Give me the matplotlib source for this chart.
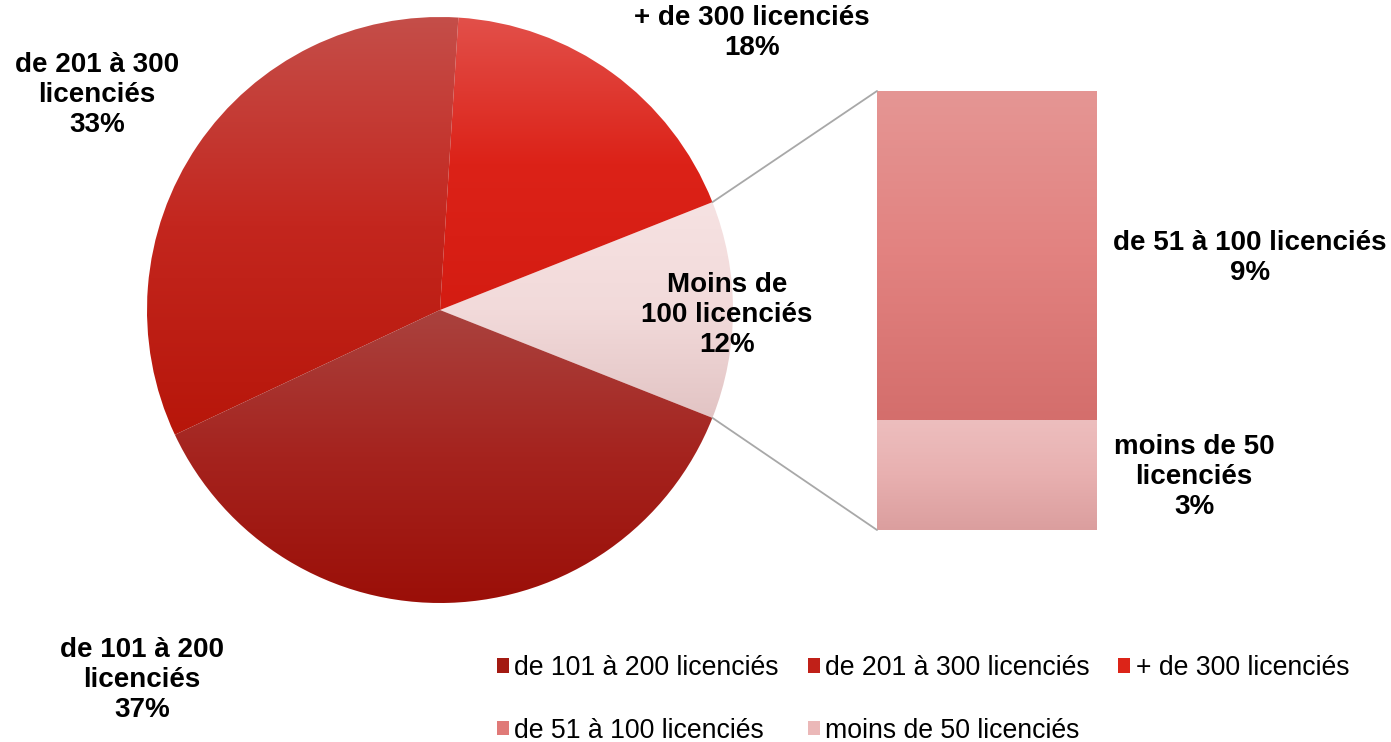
import matplotlib

matplotlib.use("Agg")
import matplotlib.pyplot as plt
import numpy as np
from matplotlib.colors import LinearSegmentedColormap
from matplotlib.patches import ConnectionPatch, Patch

plt.rcParams["font.family"] = ["Liberation Sans", "DejaVu Sans"]

# pie slices, counter-clockwise from the "other" slice
pie_labels = ["Moins de\n100 licenciés", "+ de 300 licenciés", "de 201 à 300\nlicenciés", "de 101 à 200\nlicenciés"]
pie_values = [12, 18, 33, 37]
# bar that details the "other" slice, bottom to top
bar_labels = ["moins de 50\nlicenciés", "de 51 à 100 licenciés"]
bar_values = [3, 9]
legend_names = [
    "de 101 à 200 licenciés",
    "de 201 à 300 licenciés",
    "+ de 300 licenciés",
    "de 51 à 100 licenciés",
    "moins de 50 licenciés",
]

# gradient stops (top -> bottom)
pie_grads = [
    [(246, 226, 226), (242, 218, 218), (226, 196, 196)],
    [(226, 80, 74), (220, 34, 24), (212, 28, 18)],
    [(197, 78, 73), (195, 38, 30), (183, 22, 10)],
    [(170, 66, 62), (165, 35, 30), (155, 15, 8)],
]
bar_grads = [
    [(237, 190, 190), (232, 176, 176), (219, 158, 158)],
    [(229, 150, 148), (226, 130, 128), (212, 110, 108)],
]
legend_colors = ["#a31a12", "#c02018", "#dc2418", "#e07a78", "#ebb8b8"]

W, H = 1391, 742


def fx(px):
    return px / W


def fy(py):
    return 1 - py / H


def rgb(c):
    return np.array(c) / 255.0


def fill_gradient(ax, patch, stops, ymin, ymax, xmin, xmax):
    cmap = LinearSegmentedColormap.from_list("g", [rgb(c) for c in stops])
    grad = np.linspace(0, 1, 256).reshape(-1, 1)
    im = ax.imshow(grad, cmap=cmap, extent=(xmin, xmax, ymin, ymax), origin="upper",
                   aspect="auto", interpolation="bilinear", zorder=1)
    im.set_clip_path(patch)
    patch.set_facecolor("none")


fig = plt.figure(figsize=(W / 100, H / 100), dpi=100)

# pie
cx, cy, r = 440, 310, 293
ax_pie = fig.add_axes([fx(cx - r), fy(cy + r), 2 * r / W, 2 * r / H])
start = -pie_values[0] * 3.6 / 2
wedges, _ = ax_pie.pie(pie_values, startangle=start, counterclock=True,
                       wedgeprops=dict(linewidth=0))
for w, stops in zip(wedges, pie_grads):
    t = np.radians(np.linspace(w.theta1, w.theta2, 200))
    ys = np.concatenate([[0], np.sin(t)])
    fill_gradient(ax_pie, w, stops, ys.min(), ys.max(), -1, 1)
ax_pie.set_xlim(-1, 1)
ax_pie.set_ylim(-1, 1)
ax_pie.axis("off")

# bar of the small slice
ax_bar = fig.add_axes([fx(877), fy(530), 220 / W, 439 / H])
bottom = 0
for val, stops in zip(bar_values, bar_grads):
    rect = ax_bar.bar(0, val, bottom=bottom, width=1, linewidth=0)[0]
    fill_gradient(ax_bar, rect, stops, bottom, bottom + val, -0.5, 0.5)
    bottom += val
ax_bar.set_xlim(-0.5, 0.5)
ax_bar.set_ylim(0, sum(bar_values))
ax_bar.axis("off")

# connector lines
half = np.radians(pie_values[0] * 3.6 / 2)
for sgn, ybar in [(1, sum(bar_values)), (-1, 0)]:
    con = ConnectionPatch(xyA=(np.cos(half), sgn * np.sin(half)), coordsA=ax_pie.transData,
                          xyB=(-0.5, ybar), coordsB=ax_bar.transData,
                          color="#a8a8a8", lw=1.3)
    fig.add_artist(con)

# data labels
lbl = dict(ha="center", va="center", fontsize=20, fontweight="bold", linespacing=1.2)
pie_pos = [(727, 315), (752, 33), (97, 95), (142, 680)]
for (px, py), name, val in zip(pie_pos, pie_labels, pie_values):
    fig.text(fx(px), fy(py), f"{name}\n{val}%", **lbl)
bar_pos = [(1194, 477), (1250, 258)]
for (px, py), name, val in zip(bar_pos, bar_labels, bar_values):
    fig.text(fx(px), fy(py), f"{name}\n{val}%", **lbl)

# legend, row-major order in three columns
handles = [Patch(facecolor=c, label=n) for c, n in zip(legend_colors, legend_names)]
order = [0, 3, 1, 4, 2]
fig.legend([handles[i] for i in order], [legend_names[i] for i in order], ncol=3,
           loc="upper left", bbox_to_anchor=(fx(497), fy(655)), frameon=False,
           fontsize=19.2, handlelength=0.45, handleheight=0.45, handletextpad=0.2,
           columnspacing=1.08, labelspacing=1.38, borderpad=0, borderaxespad=0)

fig.savefig("out.png", dpi=100)
